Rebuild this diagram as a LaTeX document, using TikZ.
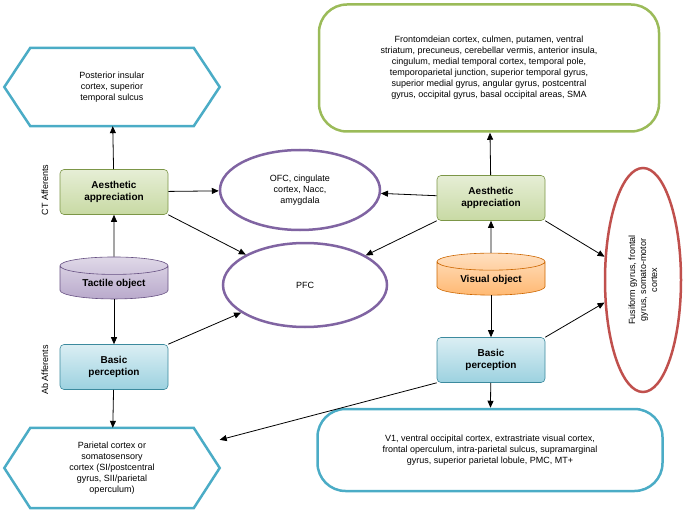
\documentclass[tikz,border=0pt]{standalone}
\usepackage{fontspec}
\setmainfont{Liberation Sans}
\usetikzlibrary{shapes.geometric,arrows.meta}
\definecolor{grn}{HTML}{9BBB59}
\definecolor{pur}{HTML}{8064A2}
\definecolor{blu}{HTML}{4BACC6}
\definecolor{rd}{HTML}{C0504D}
\begin{document}
\begin{tikzpicture}[x=1pt,y=-1pt,font=\fontsize{9}{11}\selectfont,
 box/.style={rounded corners=4pt,minimum width=108pt,minimum height=45pt,align=center,font=\fontsize{10}{12}\selectfont\bfseries,draw=#1!80!black,line width=0.6pt},
 gbox/.style={box=grn,top color=grn!25,bottom color=grn!55},
 bbox/.style={box=blu,top color=blu!20,bottom color=blu!55},
 cyl/.style={cylinder,shape border rotate=90,aspect=0.25,minimum width=108pt,minimum height=42pt,draw=#1!80!black,top color=#1!25,bottom color=#1!55,font=\fontsize{10}{12}\selectfont\bfseries,line width=0.6pt},
 hexn/.style={align=center,minimum width=215pt,inner xsep=0pt},
 hexl/.style={draw=blu,line width=2.5pt,line join=miter},
 ell/.style={ellipse,draw=#1,line width=2.5pt,align=center},
 rr/.style={draw=#1,line width=2.5pt,rounded corners=28pt,align=center},
 arr/.style={-{Triangle[length=7pt,width=6pt]},line width=0.8pt}]
\useasboundingbox (0,0) rectangle (685,513);
\node[hexn,minimum height=78pt] (lh) at (112,87) {Posterior insular\\cortex, superior\\temporal sulcus};
\draw[hexl] (lh.west) -- ([xshift=26pt]lh.north west) -- ([xshift=-26pt]lh.north east) -- (lh.east) -- ([xshift=-26pt]lh.south east) -- ([xshift=26pt]lh.south west) -- cycle;
\node[hexn,minimum height=80pt] (lb) at (112,468) {Parietal cortex or\\somatosensory\\cortex (SI/postcentral\\gyrus, SII/parietal\\operculum)};
\draw[hexl] (lb.west) -- ([xshift=26pt]lb.north west) -- ([xshift=-26pt]lb.north east) -- (lb.east) -- ([xshift=-26pt]lb.south east) -- ([xshift=26pt]lb.south west) -- cycle;
\node[gbox] (la) at (114,192) {Aesthetic\\appreciation};
\node[cyl=pur] (lt) at (114,284) {Tactile object};
\node[bbox] (lp) at (114,367) {Basic\\perception};
\node[ell=pur,minimum width=160pt,minimum height=80pt] (ofc) at (300,190) {OFC, cingulate\\cortex, Nacc,\\amygdala};
\node[ell=pur,minimum width=164pt,minimum height=84pt] (pfc) at (305,285) {PFC};
\node[rr=grn,minimum width=340pt,minimum height=127pt] (tr) at (489,68) {Frontomdeian cortex, culmen, putamen, ventral\\striatum, precuneus, cerebellar vermis, anterior insula,\\cingulum, medial temporal cortex, temporal pole,\\temporoparietal junction, superior temporal gyrus,\\superior medial gyrus, angular gyrus, postcentral\\gyrus, occipital gyrus, basal occipital areas, SMA};
\node[gbox] (ra) at (491,198) {Aesthetic\\appreciation};
\node[cyl=orange] (rv) at (491,280) {Visual object};
\node[bbox] (rp) at (491,360) {Basic\\perception};
\node[ell=rd,minimum width=76pt,minimum height=224pt] (red) at (643,280) {};
\node[rotate=90,align=center] (redt) at (643,280) {Fusiform gyrus, frontal\\gyrus, somato-motor\\cortex};
\node[rr=blu,minimum width=345pt,minimum height=82pt] (br) at (490,450) {V1, ventral occipital cortex, extrastriate visual cortex,\\frontal operculum, intra-parietal sulcus, supramarginal\\gyrus, superior parietal lobule, PMC, MT+};
\node[rotate=90] (ct) at (45,190) {CT Afferents};
\node[rotate=90] (ab) at (45,370) {Ab Afferents};
\draw[arr] (la) -- (lh);
\draw[arr] (lt) -- (la);
\draw[arr] (lt) -- (lp);
\draw[arr] (lp) -- (lb);
\draw[arr] (la) -- (ofc);
\draw[arr] (la.south east) -- (pfc);
\draw[arr] (lp.north east) -- (pfc);
\draw[arr] (ra) -- (ofc);
\draw[arr] (ra.south west) -- (pfc);
\draw[arr] (ra) -- (tr);
\draw[arr] (rv) -- (ra);
\draw[arr] (rv) -- (rp);
\draw[arr] (ra.south east) -- (red);
\draw[arr] (rp.north east) -- (red);
\draw[arr] (rp.south west) -- (lb);
\draw[arr] (rp) -- (br);
\end{tikzpicture}
\end{document}
